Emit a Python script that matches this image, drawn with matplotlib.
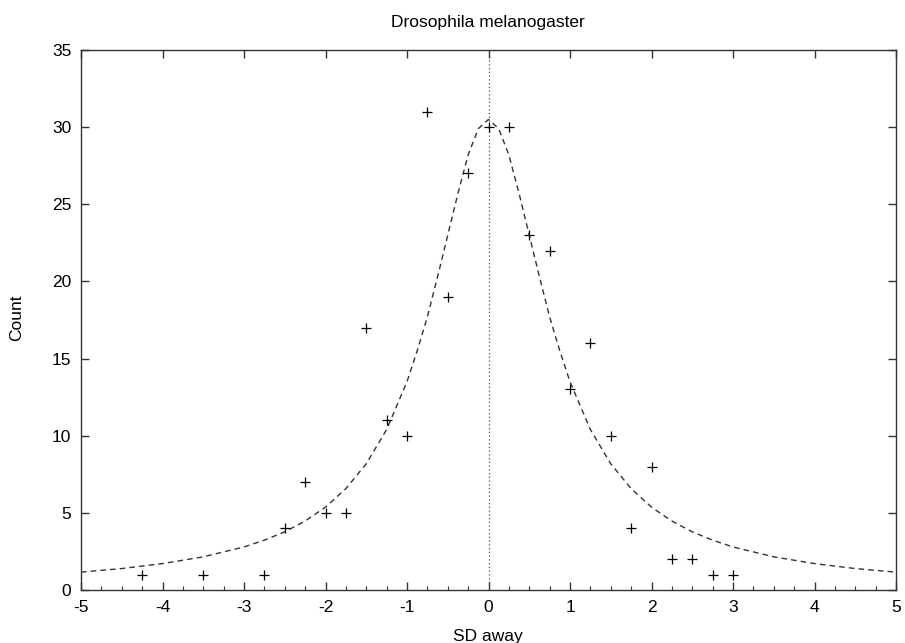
import numpy as np
import matplotlib
matplotlib.use("Agg")
import matplotlib.pyplot as plt
from matplotlib.ticker import MultipleLocator

# --------------------------------------------------
# Data
# --------------------------------------------------

sd_bins = [-4.25, -3.5, -2.75, -2.5, -2.25, -2.0, -1.75, -1.5, -1.25, -1.0,
           -0.75, -0.5, -0.25, 0.0, 0.25, 0.5, 0.75, 1.0, 1.25, 1.5,
           1.75, 2.0, 2.25, 2.5, 2.75, 3.0]
counts = [1, 1, 1, 4, 7, 5, 5, 17, 11, 10,
          31, 19, 27, 30, 30, 23, 22, 13, 16, 10,
          4, 8, 2, 2, 1, 1]

# fitted curve (dashed), read at these x positions
fit_x = [-5, -4.5, -4, -3.5, -3, -2.75, -2.5, -2.25, -2, -1.75, -1.5, -1.25,
         -1, -0.875, -0.75, -0.625, -0.5, -0.375, -0.25, -0.125, 0,
         0.125, 0.25, 0.375, 0.5, 0.625, 0.75, 0.875, 1, 1.25, 1.5, 1.75,
         2, 2.25, 2.5, 2.75, 3, 3.5, 4, 4.5, 5]
fit_y = [1.16, 1.39, 1.71, 2.15, 2.79, 3.23, 3.77, 4.47, 5.37, 6.57, 8.18, 10.4,
         13.5, 15.5, 17.7, 20.3, 23.0, 25.7, 28.2, 29.9, 30.5,
         29.9, 28.2, 25.7, 23.0, 20.3, 17.7, 15.5, 13.5, 10.4, 8.18, 6.57,
         5.37, 4.47, 3.77, 3.23, 2.79, 2.15, 1.71, 1.39, 1.16]

x_ticks = [-5, -4, -3, -2, -1, 0, 1, 2, 3, 4, 5]
y_ticks = [0, 5, 10, 15, 20, 25, 30, 35]

# --------------------------------------------------
# Figure
# --------------------------------------------------

plt.rcParams["font.family"] = ["Liberation Sans", "DejaVu Sans"]
plt.rcParams["font.size"] = 12.5
plt.rcParams["axes.unicode_minus"] = False

fig = plt.figure(figsize=(9.05, 6.43), dpi=100)
ax = fig.add_axes([81 / 905, 53 / 643, 815 / 905, 540 / 643])

ax.axvline(0, color="#555555", linestyle=(0, (1, 2)), linewidth=0.9)
ax.plot(fit_x, fit_y, linestyle=(0, (4, 3)), color="#333333", linewidth=1.0)
ax.plot(sd_bins, counts, linestyle="none", marker="+", markersize=7,
        markeredgewidth=0.9, color="black")

ax.set_xlim(-5, 5)
ax.set_ylim(0, 35)
ax.set_xticks(x_ticks)
ax.set_yticks(y_ticks)
ax.xaxis.set_minor_locator(MultipleLocator(0.25))

ax.tick_params(axis="both", which="major", direction="in", length=6,
               width=1, color="#333333", top=True, right=True, pad=7)
ax.tick_params(axis="x", which="minor", direction="in", length=3,
               width=0.8, color="#333333", top=False)
ax.tick_params(axis="y", which="minor", left=False, right=False)

for s in ax.spines.values():
    s.set_color("#333333")
    s.set_linewidth(1.0)

fig.text(488 / 905, 1 - 22 / 643, "Drosophila melanogaster",
         ha="center", va="center")
fig.text(488 / 905, 1 - 636 / 643, "SD away", ha="center", va="center")
fig.text(17 / 905, 1 - 318 / 643, "Count", ha="center", va="center",
         rotation=90)

fig.savefig("out.png", dpi=100)
